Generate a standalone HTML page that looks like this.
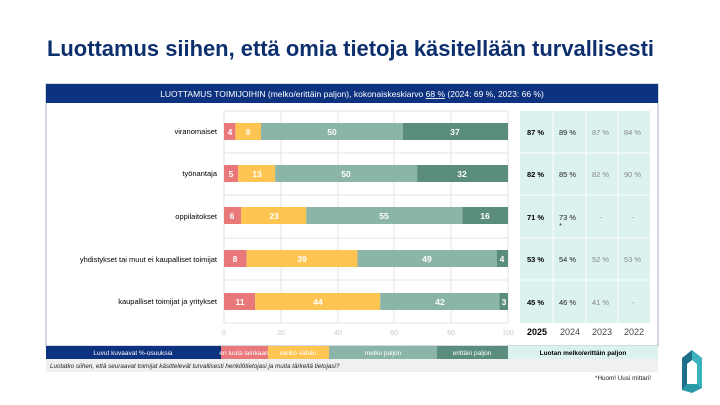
<!DOCTYPE html>
<html><head><meta charset="utf-8"><style>
html,body{margin:0;padding:0;background:#fff;}
svg{display:block;font-family:"Liberation Sans",Arial,sans-serif;}
</style></head><body>
<svg width="720" height="405" viewBox="0 0 720 405" xmlns="http://www.w3.org/2000/svg">
<rect width="720" height="405" fill="#fff"/>
<text x="47" y="56" font-size="22" font-weight="bold" fill="#0d2f6e" textLength="607" lengthAdjust="spacingAndGlyphs">Luottamus siihen, että omia tietoja käsitellään turvallisesti</text>
<rect x="46" y="84" width="612" height="262" fill="#fff" stroke="#a9b6c8" stroke-width="1"/>
<rect x="46" y="84" width="612" height="19" fill="#0d3380"/>
<text x="352" y="97" font-size="8.5" fill="#fff" text-anchor="middle">LUOTTAMUS TOIMIJOIHIN (melko/erittäin paljon), kokonaiskeskiarvo <tspan text-decoration="underline">68 %</tspan> (2024: 69 %, 2023: 66 %)</text>
<g stroke="#dcdcdc" stroke-width="0.8">
<line x1="224" y1="111" x2="224" y2="323"/><line x1="281" y1="111" x2="281" y2="323"/><line x1="338" y1="111" x2="338" y2="323"/><line x1="394" y1="111" x2="394" y2="323"/><line x1="451" y1="111" x2="451" y2="323"/><line x1="508" y1="111" x2="508" y2="323"/>
<line x1="224" y1="111" x2="508" y2="111"/><line x1="224" y1="153" x2="508" y2="153"/><line x1="224" y1="195" x2="508" y2="195"/><line x1="224" y1="238" x2="508" y2="238"/><line x1="224" y1="280" x2="508" y2="280"/><line x1="224" y1="323" x2="508" y2="323"/>
</g>
<g font-size="7" fill="#c8c8c8" text-anchor="middle">
<text x="224" y="335">0</text><text x="281" y="335">20</text><text x="338" y="335">40</text><text x="394" y="335">60</text><text x="451" y="335">80</text><text x="508" y="335">100</text>
</g>
<g font-size="7.5" fill="#000" text-anchor="end">
<text x="217" y="134">viranomaiset</text>
<text x="217" y="176">työnantaja</text>
<text x="217" y="219">oppilaitokset</text>
<text x="217" y="262">yhdistykset tai muut ei kaupalliset toimijat</text>
<text x="217" y="304">kaupalliset toimijat ja yritykset</text>
</g>
<g font-size="8.5" font-weight="bold" fill="#fff" text-anchor="middle">
<rect x="224" y="123" width="11.4" height="17" fill="#e8787a"/><rect x="235.4" y="123" width="25.6" height="17" fill="#ffc553"/><rect x="261" y="123" width="142" height="17" fill="#8ab5a8"/><rect x="403" y="123" width="105" height="17" fill="#5a8d7d"/>
<text x="230" y="135">4</text><text x="248" y="135">9</text><text x="332" y="135">50</text><text x="455" y="135">37</text>
<rect x="224" y="165" width="14.2" height="17" fill="#e8787a"/><rect x="238.2" y="165" width="36.9" height="17" fill="#ffc553"/><rect x="275.1" y="165" width="142" height="17" fill="#8ab5a8"/><rect x="417.1" y="165" width="90.9" height="17" fill="#5a8d7d"/>
<text x="231" y="177">5</text><text x="257" y="177">13</text><text x="346" y="177">50</text><text x="462" y="177">32</text>
<rect x="224" y="207" width="17" height="17" fill="#e8787a"/><rect x="241" y="207" width="65.3" height="17" fill="#ffc553"/><rect x="306.3" y="207" width="156.2" height="17" fill="#8ab5a8"/><rect x="462.5" y="207" width="45.5" height="17" fill="#5a8d7d"/>
<text x="232" y="219">6</text><text x="274" y="219">23</text><text x="384" y="219">55</text><text x="485" y="219">16</text>
<rect x="224" y="250" width="22.7" height="17" fill="#e8787a"/><rect x="246.7" y="250" width="110.8" height="17" fill="#ffc553"/><rect x="357.5" y="250" width="139.2" height="17" fill="#8ab5a8"/><rect x="496.7" y="250" width="11.3" height="17" fill="#5a8d7d"/>
<text x="235" y="262">8</text><text x="302" y="262">39</text><text x="427" y="262">49</text><text x="502" y="262">4</text>
<rect x="224" y="293" width="31.2" height="17" fill="#e8787a"/><rect x="255.2" y="293" width="125" height="17" fill="#ffc553"/><rect x="380.2" y="293" width="119.3" height="17" fill="#8ab5a8"/><rect x="499.5" y="293" width="8.5" height="17" fill="#5a8d7d"/>
<text x="240" y="305">11</text><text x="318" y="305">44</text><text x="440" y="305">42</text><text x="504" y="305">3</text>
</g>
<rect x="520" y="111" width="130" height="212" fill="#dbf2ee"/>
<g stroke="#fff" stroke-width="1">
<line x1="553" y1="111" x2="553" y2="323"/><line x1="586" y1="111" x2="586" y2="323"/><line x1="618" y1="111" x2="618" y2="323"/>
<line x1="520" y1="153" x2="650" y2="153"/><line x1="520" y1="195" x2="650" y2="195"/><line x1="520" y1="238" x2="650" y2="238"/><line x1="520" y1="280" x2="650" y2="280"/>
</g>
<g font-size="7.5">
<g font-weight="bold" fill="#000"><text x="527" y="135">87 %</text><text x="527" y="177">82 %</text><text x="527" y="220">71 %</text><text x="527" y="262">53 %</text><text x="527" y="305">45 %</text></g>
<g fill="#222"><text x="559" y="135">89 %</text><text x="559" y="177">85 %</text><text x="559" y="220">73 %</text><text x="559" y="228">*</text><text x="559" y="262">54 %</text><text x="559" y="305">46 %</text></g>
<g fill="#888"><text x="592" y="135">87 %</text><text x="592" y="177">82 %</text><text x="600" y="220">-</text><text x="592" y="262">52 %</text><text x="592" y="305">41 %</text>
<text x="624" y="135">84 %</text><text x="624" y="177">90 %</text><text x="632" y="220">-</text><text x="624" y="262">53 %</text><text x="632" y="305">-</text></g>
</g>
<g font-size="9" text-anchor="middle" fill="#444"><text x="537" y="335" font-weight="bold" fill="#000">2025</text><text x="570" y="335">2024</text><text x="602" y="335">2023</text><text x="634" y="335">2022</text></g>
<rect x="46" y="346" width="175" height="13" fill="#0d3380"/>
<rect x="221" y="346" width="47" height="13" fill="#e8787a"/>
<rect x="268" y="346" width="61" height="13" fill="#ffc553"/>
<rect x="329" y="346" width="108" height="13" fill="#8ab5a8"/>
<rect x="437" y="346" width="71" height="13" fill="#5a8d7d"/>
<rect x="508" y="346" width="150" height="13" fill="#dbf2ee"/>
<g font-size="6.5" text-anchor="middle" fill="#fff">
<text x="133" y="355">Luvut kuvaavat %-osuuksia</text>
<text x="244" y="355">en luota lainkaan</text>
<text x="298" y="355">melko vähän</text>
<text x="383" y="355">melko paljon</text>
<text x="472" y="355">erittäin paljon</text>
<text x="583" y="355" fill="#000" font-weight="bold">Luotan melko/erittäin  paljon</text>
</g>
<rect x="46" y="359" width="612" height="13" fill="#f0f0f0"/>
<text x="50" y="368" font-size="6.3" font-style="italic" fill="#222">Luotatko siihen, että seuraavat toimijat käsittelevät turvallisesti henkilötietojasi ja muita tärkeitä tietojasi?</text>
<text x="651" y="380" font-size="6.3" fill="#222" text-anchor="end">*Huom! Uusi mittari!</text>
<polygon points="682,358 692,350 692,390 682,390" fill="#1f6f8b"/>
<polygon points="692,350 702,358 702,388 692,390" fill="#3bb3bd"/>
<polygon points="687,364 692,360 697,364 697,384 687,384" fill="#fff"/>
<polygon points="682,390 687,384 697,384 702,388 692,393" fill="#2a9aa8"/>
</svg>
</body></html>
